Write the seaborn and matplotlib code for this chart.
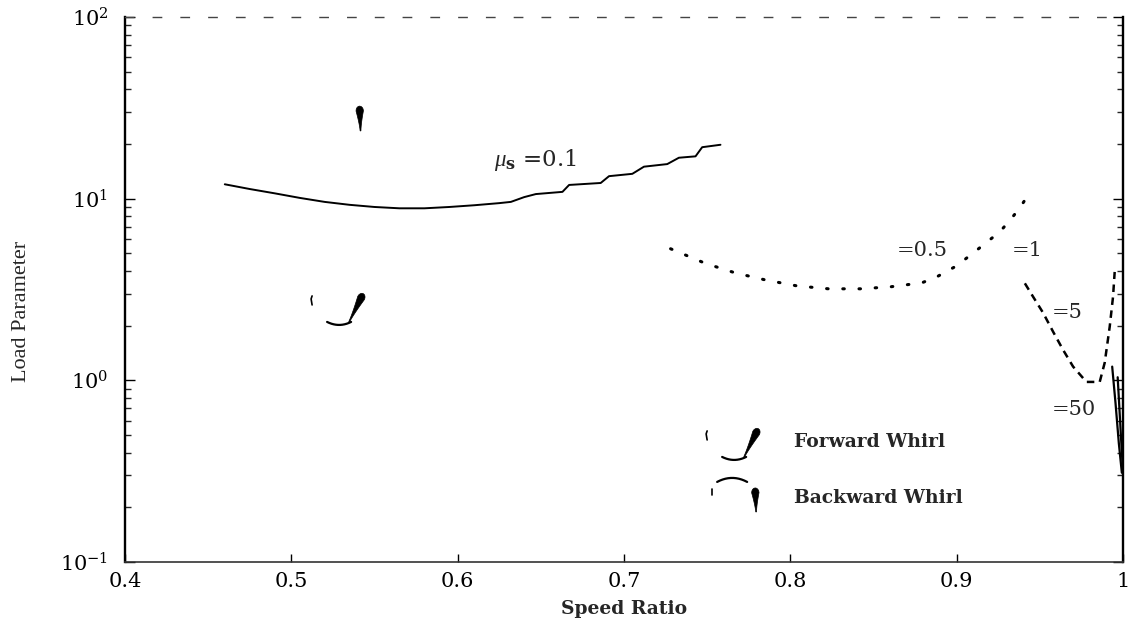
import numpy as np
import pandas as pd
import matplotlib
matplotlib.use("Agg")
import matplotlib.pyplot as plt
import seaborn as sns
from matplotlib.patches import Polygon
from matplotlib.lines import Line2D
from matplotlib.transforms import IdentityTransform
from matplotlib.ticker import FixedLocator, FuncFormatter, LogLocator, NullFormatter, FixedFormatter

# ---------------- data ----------------
mu01_x = [0.460, 0.475, 0.490, 0.505, 0.520, 0.535, 0.550, 0.565, 0.580, 0.595,
          0.610, 0.625, 0.632, 0.640, 0.647, 0.663, 0.667, 0.686, 0.691, 0.705,
          0.712, 0.726, 0.733, 0.743, 0.747, 0.758]
mu01_y = [12.0, 11.3, 10.7, 10.1, 9.6, 9.25, 9.0, 8.85, 8.85, 9.0,
          9.2, 9.45, 9.6, 10.2, 10.6, 10.9, 11.9, 12.2, 13.3, 13.7,
          15.0, 15.5, 16.8, 17.1, 19.2, 19.8]

mu05_x = [0.728, 0.749, 0.767, 0.785, 0.804, 0.823, 0.842, 0.860, 0.879, 0.888,
          0.900, 0.912, 0.922, 0.928, 0.933, 0.938, 0.945]
mu05_y = [5.3, 4.4, 3.9, 3.57, 3.31, 3.19, 3.19, 3.27, 3.44, 3.71,
          4.27, 5.2, 6.15, 6.9, 7.8, 8.9, 11.2]

mu1_x = [0.941, 0.946, 0.952, 0.958, 0.964, 0.970, 0.978, 0.986, 0.989, 0.992, 0.994, 0.995]
mu1_y = [3.42, 2.88, 2.35, 1.85, 1.47, 1.19, 0.98, 0.98, 1.25, 1.97, 2.88, 3.95]

mu5_x = [0.9935, 0.9955, 0.9975, 0.9993]
mu5_y = [1.19, 0.75, 0.45, 0.31]

mu50_x = [0.9968, 0.9980, 0.9990, 0.9998]
mu50_y = [1.04, 0.66, 0.45, 0.34]

x_ticks = [0.4, 0.5, 0.6, 0.7, 0.8, 0.9, 1.0]
x_tick_labels = ["0.4", "0.5", "0.6", "0.7", "0.8", "0.9", "1"]
y_ticks = [0.1, 1, 10, 100]

curve_labels = [r"$\mu_{\mathbf{s}}$ =0.1", "=0.5", "=1", "=5", "=50"]
curve_label_x = [0.622, 0.864, 0.933, 0.957, 0.957]
curve_label_y = [16.3, 5.2, 5.2, 2.35, 0.69]
curve_label_size = [16.5, 15, 15, 15, 15]

legend_texts = ["Forward Whirl", "Backward Whirl"]
legend_text_x = [0.802, 0.802]
legend_text_y = [0.458, 0.225]

# glyph anchors (data coords)
fw_anchor_x = [0.5215, 0.759]
fw_anchor_y = [2.07, 0.374]
bw_anchor_x = [0.756]
bw_anchor_y = [0.283]
bw_drop_x = [0.541]
bw_drop_y = [32.0]

# ---------------- style ----------------
sns.set_theme(style="ticks")
plt.rcParams["font.family"] = ["DejaVu Serif", "Liberation Serif"]
plt.rcParams["mathtext.fontset"] = "custom"
plt.rcParams["mathtext.rm"] = "DejaVu Serif"
plt.rcParams["mathtext.it"] = "Liberation Serif:italic"
plt.rcParams["mathtext.bf"] = "DejaVu Serif:bold"

W, H = 1135, 641
fig = plt.figure(figsize=(W / 100, H / 100), dpi=100)
ax = fig.add_axes([125 / W, 1 - 562 / H, 998 / W, 545 / H])

def line(xs, ys, **kw):
    df = pd.DataFrame({"x": xs, "y": ys})
    sns.lineplot(data=df, x="x", y="y", ax=ax, estimator=None, sort=False,
                 color="black", **kw)

line(mu01_x, mu01_y, linewidth=1.4)
line(mu05_x, mu05_y, linewidth=2.2, linestyle=(0, (0.5, 4.8)), dash_capstyle="round")
line(mu1_x, mu1_y, linewidth=1.8, linestyle=(0, (3.0, 2.2)))
line(mu5_x, mu5_y, linewidth=1.6)
line(mu50_x, mu50_y, linewidth=1.6)

ax.set_yscale("log")
ax.set_xlim(0.4, 1.0)
ax.set_ylim(0.1, 100)

ax.xaxis.set_major_locator(FixedLocator(x_ticks))
ax.xaxis.set_major_formatter(FixedFormatter(x_tick_labels))
ax.yaxis.set_major_locator(FixedLocator(y_ticks))
ax.yaxis.set_major_formatter(FuncFormatter(lambda v, p: r"$\mathdefault{10^{%d}}$" % int(round(np.log10(v)))))
ax.yaxis.set_minor_locator(LogLocator(base=10, subs=np.arange(2, 10)))
ax.yaxis.set_minor_formatter(NullFormatter())

ax.tick_params(axis="x", which="major", direction="in", length=6, width=1,
               top=False, bottom=True, labelsize=15, pad=7, colors="black")
ax.tick_params(axis="y", which="major", direction="in", length=7, width=1,
               left=True, right=True, labelsize=15, pad=12, colors="black")
ax.tick_params(axis="y", which="minor", direction="in", length=4, width=1,
               left=True, right=True)

for s in ["left", "right"]:
    ax.spines[s].set_linewidth(1.7)
    ax.spines[s].set_color("black")
ax.spines["bottom"].set_linewidth(1.2)
ax.spines["bottom"].set_color("#333333")
ax.spines["top"].set_linewidth(1.0)
ax.spines["top"].set_color("#444444")
ax.spines["top"].set_linestyle((0, (6, 14)))

ax.set_xlabel("Speed Ratio", fontsize=13.5, fontweight="bold")
ax.xaxis.set_label_coords(0.5, -0.07)
ax.set_ylabel("Load Parameter", fontsize=16, family=["Liberation Serif"])
ax.yaxis.set_label_coords(-0.094, 0.46)

for t, tx, ty, fs in zip(curve_labels, curve_label_x, curve_label_y, curve_label_size):
    ax.text(tx, ty, t, fontsize=fs, ha="left", va="center")

for t, tx, ty in zip(legend_texts, legend_text_x, legend_text_y):
    ax.text(tx, ty, t, fontsize=13.5, fontweight="bold", ha="left", va="center")

# ---------------- whirl glyphs (pixel-space decorations) ----------------
fig.canvas.draw()
ident = IdentityTransform()

def teardrop(p0, p1, w):
    p0 = np.asarray(p0, float); p1 = np.asarray(p1, float)
    d = p1 - p0
    L = np.hypot(*d)
    u = d / L
    n = np.array([-u[1], u[0]])
    ts = np.linspace(0, 0.8, 9)
    hw = w * (ts / 0.8) ** 1.4 + 0.4
    left = [p0 + u * t * L + n * h for t, h in zip(ts, hw)]
    right = [p0 + u * t * L - n * h for t, h in zip(ts, hw)]
    c = p0 + u * 0.8 * L
    ang = np.linspace(np.pi / 2, -np.pi / 2, 9)
    r = hw[-1]
    head = [c + n * (r * np.sin(a)) + u * (r * 1.3 * np.cos(a)) for a in ang]
    verts = left + head + right[::-1]
    fig.add_artist(Polygon(verts, closed=True, transform=ident, color="black", lw=0.5))

def stroke(pts, lw=1.5):
    pts = np.asarray(pts, float)
    fig.add_artist(Line2D(pts[:, 0], pts[:, 1], transform=ident, color="black",
                          lw=lw, solid_capstyle="round"))

def arc(x0, y0, width, depth, up):
    t = np.linspace(0, 1, 12)
    xs = x0 + width * t
    ys = y0 + (depth * 4 * t * (1 - t) if up else -depth * 4 * t * (1 - t))
    return np.column_stack([xs, ys])

for ax_x, ax_y in zip(fw_anchor_x, fw_anchor_y):
    px, py = ax.transData.transform((ax_x, ax_y))
    stroke([[px - 15, py + 18], [px - 16, py + 24], [px - 15, py + 27]], lw=1.2)
    stroke(arc(px, py + 1, 24, 3, up=False), lw=1.6)
    teardrop((px + 22, py + 1), (px + 37, py + 31), 3.3)

for ax_x, ax_y in zip(bw_anchor_x, bw_anchor_y):
    px, py = ax.transData.transform((ax_x, ax_y))
    stroke([[px - 5, py - 9], [px - 5, py - 15]], lw=1.2)
    stroke(arc(px, py - 2, 30, 4, up=True), lw=1.6)
    teardrop((px + 39, py - 32), (px + 38, py - 8), 3.3)

for ax_x, ax_y in zip(bw_drop_x, bw_drop_y):
    px, py = ax.transData.transform((ax_x, ax_y))
    teardrop((px + 1, py - 24), (px, py + 1), 3.3)

fig.savefig("out.png", dpi=100)
